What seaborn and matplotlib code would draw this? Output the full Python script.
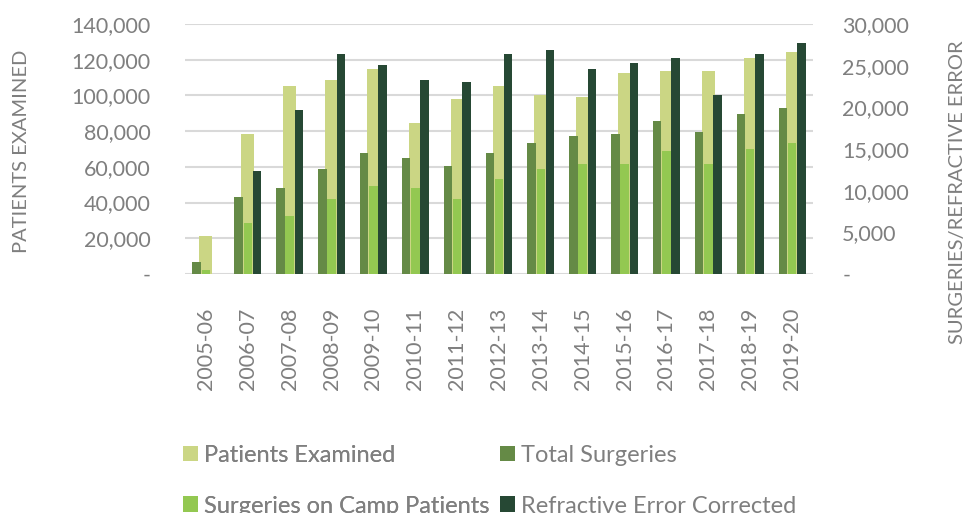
import matplotlib
matplotlib.use("Agg")
import matplotlib.pyplot as plt
import matplotlib.ticker as mticker
from matplotlib.patches import Patch
import seaborn as sns
import pandas as pd

years = ["2005-06", "2006-07", "2007-08", "2008-09", "2009-10", "2010-11", "2011-12",
         "2012-13", "2013-14", "2014-15", "2015-16", "2016-17", "2017-18", "2018-19", "2019-20"]
patients_examined = [21300, 78400, 105300, 108600, 114800, 84600, 98000,
                     105300, 100200, 99100, 112600, 113700, 113700, 121000, 124300]
total_surgeries = [1440, 9240, 10320, 12600, 14520, 13920, 12960,
                   14520, 15720, 16560, 16800, 18360, 17040, 19200, 19920]
camp_surgeries = [480, 6120, 6960, 9000, 10560, 10320, 9000,
                  11400, 12600, 13200, 13200, 14760, 13200, 15000, 15720]
refractive_corrected = [0, 12360, 19680, 26400, 25080, 23280, 23040,
                        26400, 26880, 24600, 25320, 25920, 21480, 26400, 27720]

series_names = ["Patients Examined", "Total Surgeries",
                "Surgeries on Camp Patients", "Refractive Error Corrected"]
colors = {"Patients Examined": "#CBD684",
          "Total Surgeries": "#658A46",
          "Surgeries on Camp Patients": "#93C851",
          "Refractive Error Corrected": "#264834"}

text_color = "#7F7F7F"
plt.rcParams["font.family"] = ["Lato", "DejaVu Sans"]

fig = plt.figure(figsize=(9.77, 5.13), dpi=100)
ax = fig.add_axes([185/977, 1-274/513, (813-185)/977, 250/513])

df_left = pd.DataFrame({"year": years, "value": patients_examined})
sns.barplot(data=df_left, x="year", y="value", color=colors["Patients Examined"],
            width=0.31, ax=ax, saturation=1, zorder=2)

ax2 = ax.twinx()
df_right = pd.DataFrame({
    "year": years * 3,
    "value": total_surgeries + camp_surgeries + refractive_corrected,
    "series": (["Total Surgeries"] * len(years) + ["Surgeries on Camp Patients"] * len(years)
               + ["Refractive Error Corrected"] * len(years)),
})
sns.barplot(data=df_right, x="year", y="value", hue="series",
            hue_order=["Total Surgeries", "Surgeries on Camp Patients", "Refractive Error Corrected"],
            palette=colors, width=0.66, gap=0.08, ax=ax2, saturation=1, legend=False)

ax.set_xlim(-0.5, len(years) - 0.5)
ax.set_ylim(0, 140000)
ax2.set_ylim(0, 30000)
ax.set_yticks(range(0, 140001, 20000))
ax2.set_yticks(range(0, 30001, 5000))

def fmt(v, pos):
    return "-" if v == 0 else f"{int(v):,}"

ax.yaxis.set_major_formatter(mticker.FuncFormatter(fmt))
ax2.yaxis.set_major_formatter(mticker.FuncFormatter(fmt))

ax.set_xticks(range(len(years)))
ax.set_xticklabels(years, rotation=90)

for a in (ax, ax2):
    for s in a.spines.values():
        s.set_visible(False)
    a.set_xlabel("")
    a.set_ylabel("")
    a.tick_params(length=0, colors=text_color, labelsize=15.5)

ax.tick_params(axis="y", pad=25)
ax2.tick_params(axis="y", pad=21)
ax.tick_params(axis="x", pad=24)

ax.set_axisbelow(True)
ax.yaxis.grid(True, color="#D9D9D9", linewidth=1.5)
ax.xaxis.grid(False)
ax2.grid(False)

fig.text(22/977, 1-151/513, "PATIENTS EXAMINED", rotation=90, ha="center", va="center",
         color=text_color, fontsize=14.5)
fig.text(957/977, 1-192/513, "SURGERIES/REFRACTIVE ERROR", rotation=90, ha="center", va="center",
         color=text_color, fontsize=14.5)

handles = {n: Patch(facecolor=colors[n], edgecolor="none") for n in series_names}
legend_kw = dict(loc="upper left", ncol=1, frameon=False, fontsize=17, labelcolor=text_color,
                 handlelength=0.63, handleheight=0.63, handletextpad=0.25,
                 labelspacing=1.25, borderaxespad=0, borderpad=0)
col1 = ["Patients Examined", "Surgeries on Camp Patients"]
col2 = ["Total Surgeries", "Refractive Error Corrected"]
leg1 = fig.legend([handles[n] for n in col1], col1, bbox_to_anchor=(183/977, 1-445/513), **legend_kw)
fig.add_artist(leg1)
fig.legend([handles[n] for n in col2], col2, bbox_to_anchor=(500/977, 1-445/513), **legend_kw)

fig.savefig("out.png", dpi=100)
